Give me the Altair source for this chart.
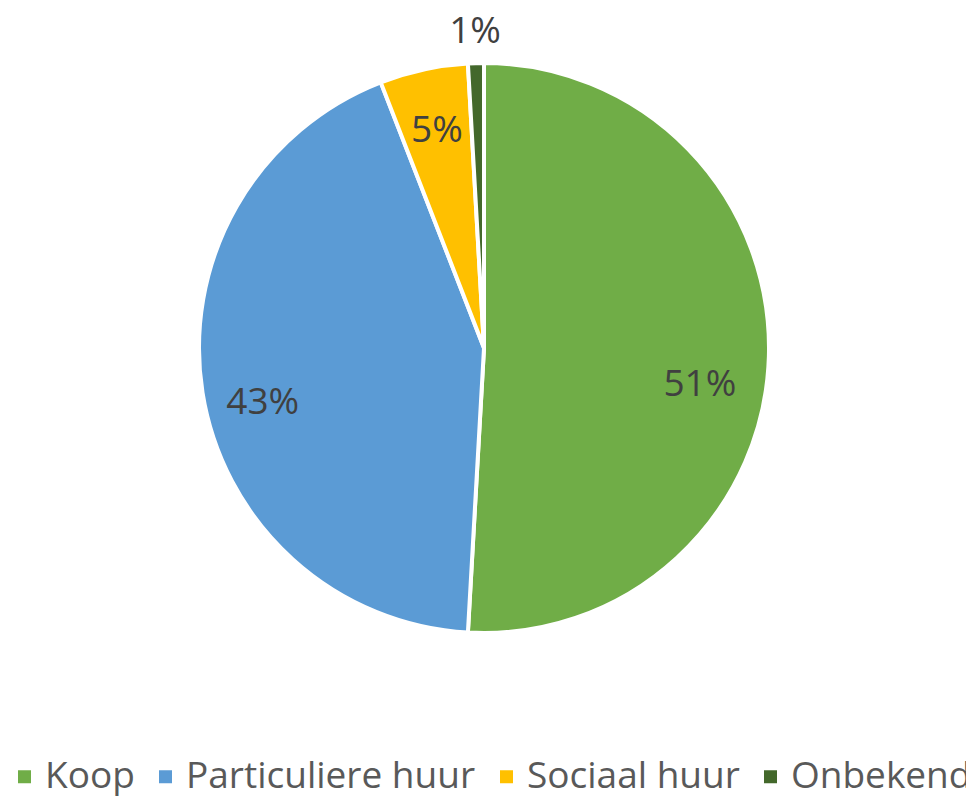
import altair as alt
import pandas as pd

categories = ["Koop", "Particuliere huur", "Sociaal huur", "Onbekend"]
values = [50.9, 43.2, 5.0, 0.9]
labels = ["51%", "43%", "5%", "1%"]
outside = [False, False, False, True]
colors = ["#70AD47", "#5B9BD5", "#FFC000", "#43682B"]

df = pd.DataFrame({
    "cat": categories,
    "val": values,
    "lab": labels,
    "outside": outside,
    "ord": list(range(len(categories))),
})

cx, cy, R = 476, 340, 285

base = alt.Chart(df).encode(
    theta=alt.Theta("val:Q", stack=True),
    order=alt.Order("ord:Q"),
    color=alt.Color(
        "cat:N",
        scale=alt.Scale(domain=categories, range=colors),
        sort=categories,
        legend=alt.Legend(
            title=None,
            orient="none",
            legendX=-2,
            legendY=750,
            direction="horizontal",
            symbolType="square",
            symbolSize=169,
            symbolStrokeWidth=0,
            labelFontSize=37,
            labelFont="Open Sans",
            labelColor="#595959",
            columnPadding=12,
            labelOffset=2,
            labelLimit=400,
        ),
    ),
)

pie = base.mark_arc(stroke="white", strokeWidth=4, radius=R).encode(
    x=alt.value(cx),
    y=alt.value(cy),
)

# Excel "best fit" nudges the two big labels downward a little
nudge_y = "datum.cat == 'Koop' ? 31 : (datum.cat == 'Particuliere huur' ? 20 : 0)"
nudge_x = "datum.cat == 'Koop' ? -6 : (datum.cat == 'Particuliere huur' ? -2 : 0)"

inner = base.mark_text(
    radius=222, fontSize=37, font="Open Sans",
    dy=alt.expr(nudge_y), dx=alt.expr(nudge_x),
).transform_calculate(
    t="datum.outside ? '' : datum.lab"
).encode(
    x=alt.value(cx),
    y=alt.value(cy),
    text="t:N",
    color=alt.value("#404040"),
    detail="cat:N",
)

outer = base.mark_text(radius=316, fontSize=37, font="Open Sans").transform_calculate(
    t="datum.outside ? datum.lab : ''"
).encode(
    x=alt.value(cx),
    y=alt.value(cy),
    text="t:N",
    color=alt.value("#404040"),
    detail="cat:N",
)

chart = (pie + inner + outer).properties(
    width=958, height=788, autosize=alt.AutoSizeParams(type="none"), padding=0
).configure_view(stroke=None)

chart.save("out.html", embed_options={"renderer": "svg", "actions": False})
